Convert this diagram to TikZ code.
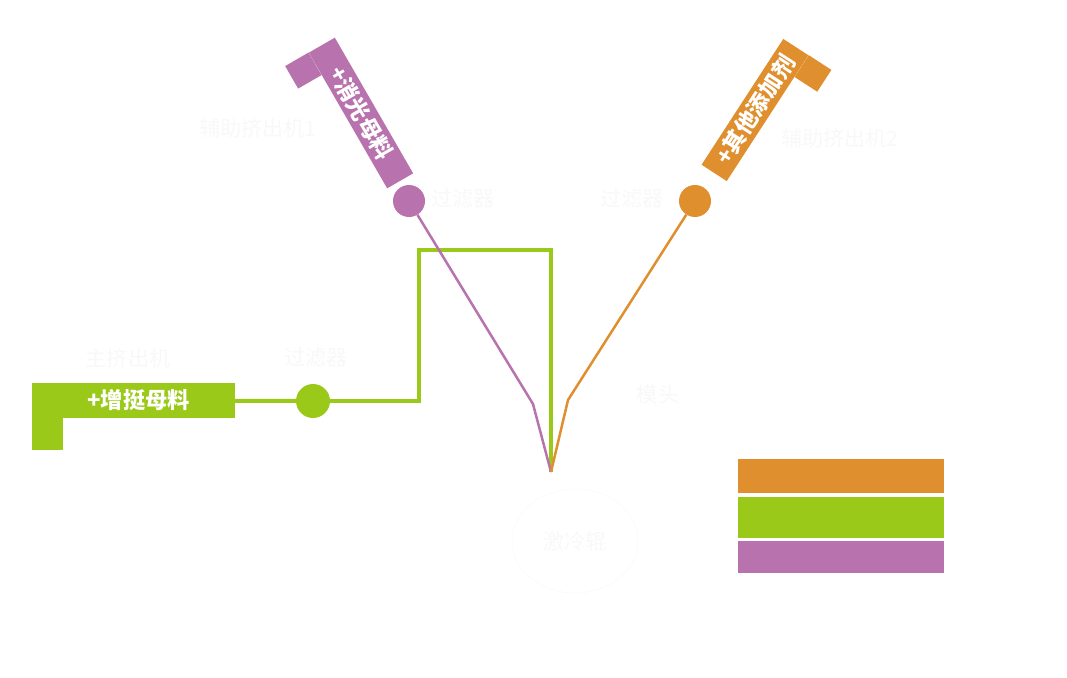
\documentclass[tikz,border=0pt]{standalone}
\usepackage{fontspec}
\newfontfamily\cjk{Noto Sans CJK SC}
\usetikzlibrary{calc,shapes.geometric}
\definecolor{leaf}{RGB}{155,201,26}
\definecolor{plum}{RGB}{184,115,174}
\definecolor{amber}{RGB}{224,143,46}
\definecolor{ghost}{RGB}{248,248,248}
% node, start anchor, end anchor, turn, width, depth, colour
\newcommand\tagtab[7]{%
  \fill[#7] (#1.#2) -- ($(#1.#2)!#5!(#1.#3)$)
    -- ($(#1.#2)!#5!(#1.#3)!#6!#4:(#1.#3)$)
    -- ($(#1.#2)!#6!#4:(#1.#3)$) -- cycle;}
\begin{document}
\begin{tikzpicture}[x=0.03cm,y=-0.03cm,
  every node/.style={font=\cjk\fontsize{18}{20}\selectfont,inner sep=0pt},
  banner/.style={fill=#1,text=white,minimum height=0.9cm,font=\cjk\bfseries\fontsize{19}{21}\selectfont},
  joint/.style={circle,fill=#1,minimum size=0.96cm},
  faint/.style={text=ghost},
  legbox/.style={fill=#1,draw=white,minimum width=6.21cm}]
\useasboundingbox (0,0) rectangle (1067,678);
\node[banner=leaf,minimum width=6.09cm,minimum height=1.05cm] (gtag) at (133.5,400.5) {\hspace{0.3cm}+增挺母料};
\node[banner=plum,minimum width=4.7cm,rotate=-60] (ptag) at (361,113) {+消光母料};
\node[banner=amber,minimum width=4.5cm,rotate=57] (otag) at (755,110) {+其他添加剂};
\tagtab{gtag}{south west}{south east}{-90}{0.93cm}{0.96cm}{leaf}
\tagtab{ptag}{south west}{south east}{-90}{0.78cm}{0.81cm}{plum}
\tagtab{otag}{south east}{south west}{90}{0.78cm}{0.81cm}{amber}
\node[joint=leaf,minimum size=1.02cm] (gcirc) at (313,401) {};
\node[joint=plum] (pcirc) at (409,201) {};
\node[joint=amber] (ocirc) at (695,201) {};
\coordinate (gbend) at (419,250);
\coordinate (pkink) at (533,404);
\coordinate (okink) at (568,400);
\coordinate (die) at (551,472);
\draw[leaf,line width=0.12cm] (gtag) -- (gcirc);
\draw[leaf,line width=0.12cm] (gcirc) -| (gbend) -| (die);
\draw[plum,line width=0.075cm] (pcirc) -- (pkink) -- (die);
\draw[amber,line width=0.075cm] (ocirc) -- (okink) -- (die);
\node[faint] (aux1) at (258,128) {辅助挤出机1};
\node[faint] (pfilt) at (463,199) {过滤器};
\node[faint] (ofilt) at (632,199) {过滤器};
\node[faint] (aux2) at (840,138) {辅助挤出机2};
\node[faint] (main) at (128,358) {主挤出机};
\node[faint] (gfilt) at (316,358) {过滤器};
\node[faint] (diehead) at (658,394) {模头};
\node[faint,ellipse,draw=ghost,minimum width=3.78cm,minimum height=3.12cm] (chill) at (575,541) {激冷辊};
\node[legbox=amber,minimum height=1.05cm] (lamber) at (840.5,475.5) {};
\node[legbox=leaf,minimum height=1.26cm] (lleaf) at (840.5,517) {};
\node[legbox=plum,minimum height=0.99cm] (lplum) at (840.5,556.5) {};
\end{tikzpicture}
\end{document}
